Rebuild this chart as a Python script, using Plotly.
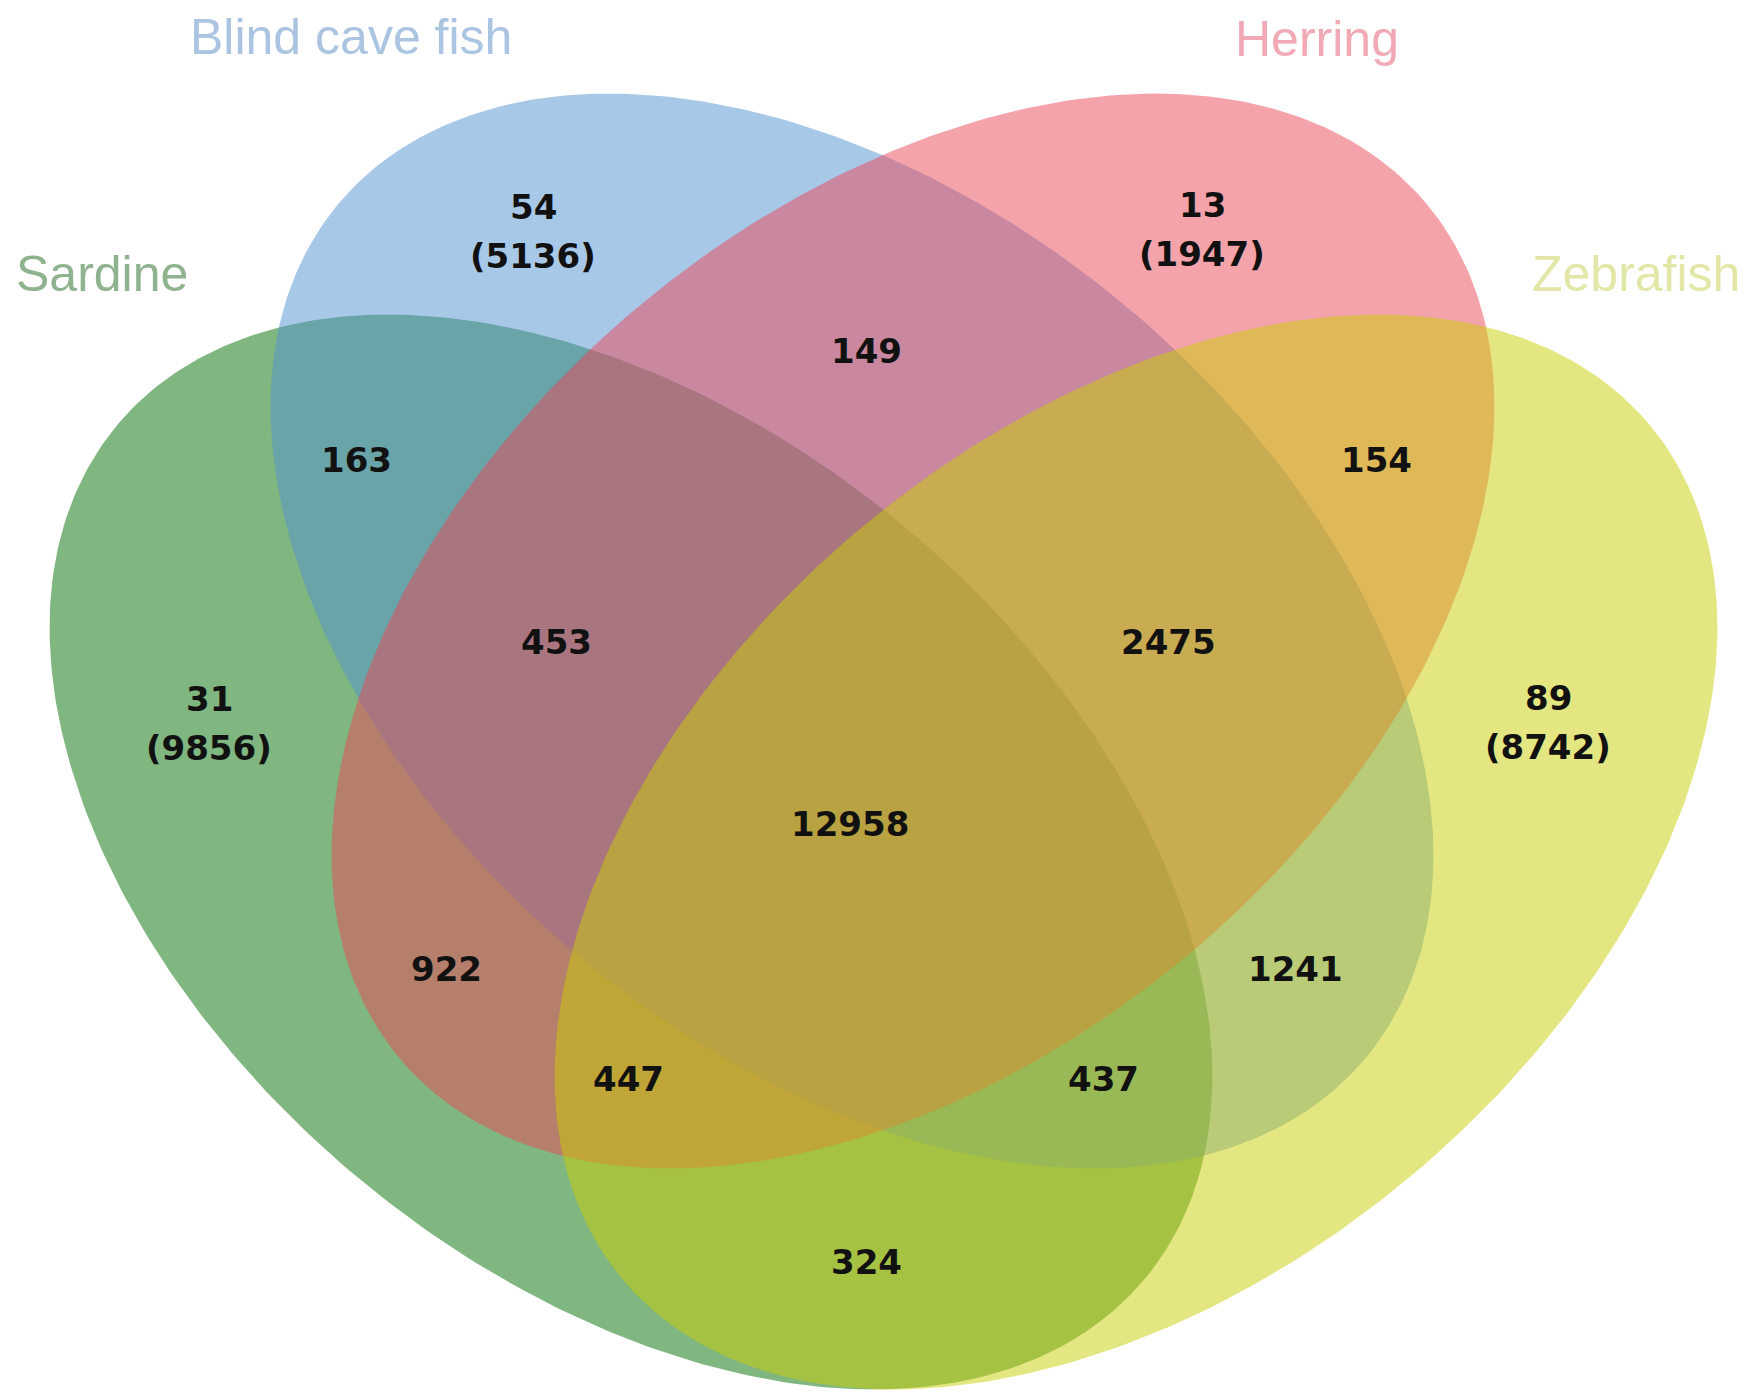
import numpy as np
import plotly.graph_objects as go

# ---- data ----
set_names = ["Sardine", "Blind cave fish", "Herring", "Zebrafish"]
unique_counts = [31, 54, 13, 89]
total_counts = [9856, 5136, 1947, 8742]
region_names = ["Blind&Herring", "Sardine&Blind", "Herring&Zebrafish",
                "Sardine&Blind&Herring", "Blind&Herring&Zebrafish", "All",
                "Sardine&Herring", "Blind&Zebrafish",
                "Sardine&Herring&Zebrafish", "Sardine&Blind&Zebrafish",
                "Sardine&Zebrafish"]
region_counts = [149, 163, 154, 453, 2475, 12958, 922, 1241, 447, 437, 324]

# ---- geometry / style ----
W, H = 1753, 1392
ell_centers = [(631, 852), (852, 631), (913, 631), (1136, 852)]
ell_angle = [39.66, 39.66, -39.66, -39.66]
ell_a, ell_b = 668, 425
fill_rgb = [(2, 110, 2), (81, 145, 209), (233, 71, 85), (201, 205, 4)]
label_colors = ["#8fb38f", "#abc4e2", "#f1a9b5", "#e2e6a6"]
label_pos = [(102, 274), (351, 37), (1317, 39), (1636, 274)]
unique_pos = [(209, 699), (533, 207), (1202, 205), (1548, 698)]
total_dy = 49
region_pos = [(866, 351), (356, 460), (1376, 460), (556, 642), (1168, 642),
              (850, 824), (446, 969), (1295, 969), (628, 1079), (1103, 1079),
              (866, 1262)]

fig = go.Figure()
t = np.linspace(0, 2 * np.pi, 400)
for (cx, cy), ang, rgb in zip(ell_centers, ell_angle, fill_rgb):
    th = np.deg2rad(ang)
    xs = cx + ell_a * np.cos(th) * np.cos(t) - ell_b * np.sin(th) * np.sin(t)
    ys = cy + ell_a * np.sin(th) * np.cos(t) + ell_b * np.cos(th) * np.sin(t)
    fig.add_trace(go.Scatter(x=xs, y=ys, mode="lines", fill="toself",
                             fillcolor="rgba(%d,%d,%d,0.5)" % rgb,
                             line=dict(width=0), hoverinfo="skip",
                             showlegend=False))

num_font = dict(family="DejaVu Sans", size=34, color="#111111", weight="bold")
ann = []
for name, (x, y), c in zip(set_names, label_pos, label_colors):
    ann.append(dict(x=x, y=y, text=name, showarrow=False,
                    font=dict(family="Liberation Sans", size=50, color=c)))
for u, tot, (x, y) in zip(unique_counts, total_counts, unique_pos):
    ann.append(dict(x=x, y=y, text=str(u), showarrow=False, font=num_font))
    ann.append(dict(x=x, y=y + total_dy, text="(%d)" % tot, showarrow=False,
                    font=num_font))
for v, (x, y) in zip(region_counts, region_pos):
    ann.append(dict(x=x, y=y, text=str(v), showarrow=False, font=num_font))

fig.update_layout(
    width=W, height=H, margin=dict(l=0, r=0, t=0, b=0),
    paper_bgcolor="white", plot_bgcolor="white",
    xaxis=dict(range=[0, W], visible=False, fixedrange=True),
    yaxis=dict(range=[H, 0], visible=False, fixedrange=True),
    annotations=ann,
)
fig.write_html("out.html")
